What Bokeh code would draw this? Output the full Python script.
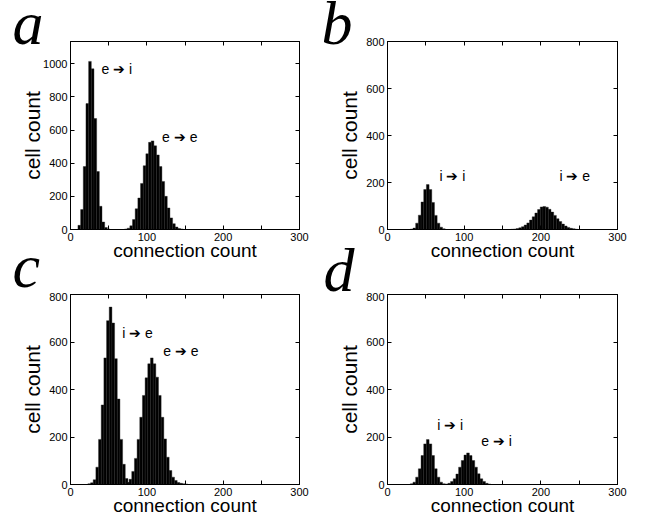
from bokeh.plotting import figure
from bokeh.layouts import column, row
from bokeh.models import FixedTicker, LinearAxis, Label, Range1d, Title, CustomJSTickFormatter
from bokeh.embed import file_html
from bokeh.resources import INLINE

# ---------------- data (bin centres, cell counts) ----------------
x_ticks = [0, 100, 200, 300]
x_minor = [50, 150, 250]
y_ticks_a = [0, 200, 400, 600, 800, 1000]
y_ticks_bcd = [0, 200, 400, 600, 800]

# panel a
a_ei_x = [11.5, 15, 18.5, 22, 25.5, 29, 32.5, 36, 39.5, 43, 46.5, 50]
a_ei_y = [25, 120, 380, 760, 1015, 970, 670, 350, 140, 45, 12, 3]
a_ee_x = [72.5, 76, 79.5, 83, 86.5, 90, 93.5, 97, 100.5, 104, 107.5, 111,
          114.5, 118, 121.5, 125, 128.5, 132, 135.5, 139, 142.5, 146]
a_ee_y = [3, 8, 22, 60, 125, 190, 278, 385, 457, 526, 535, 505,
          450, 380, 290, 200, 130, 70, 35, 15, 6, 3]

# panel b
b_ii_x = [31.5, 35, 38.5, 42, 45.5, 49, 52.5, 56, 59.5, 63, 66.5, 70, 73.5]
b_ii_y = [2, 6, 27, 61, 117, 170, 191, 170, 115, 60, 27, 10, 3]
b_ie_x = [162.5, 166, 169.5, 173, 176.5, 180, 183.5, 187, 190.5, 194, 197.5, 201,
          204.5, 208, 211.5, 215, 218.5, 222, 225.5, 229, 232.5, 236, 239.5, 243, 246.5]
b_ie_y = [1, 2, 4, 7, 12, 19, 28, 40, 54, 70, 85, 96,
          98, 95, 86, 74, 60, 46, 34, 23, 15, 9, 5, 3, 1]

# panel c
c_ie_x = [24.5, 28, 31.5, 35, 38.5, 42, 45.5, 49, 52.5, 56, 59.5, 63, 66.5, 70, 73.5, 77]
c_ie_y = [3, 7, 20, 73, 190, 335, 533, 690, 747, 680, 530, 360, 190, 85, 25, 8]
c_ee_x = [75, 78.5, 82, 85.5, 89, 92.5, 96, 99.5, 103, 106.5, 110, 113.5, 117,
          120.5, 124, 127.5, 131, 134.5, 138, 141.5, 145, 148.5, 152]
c_ee_y = [8, 22, 55, 110, 190, 283, 375, 449, 508, 533, 508, 452, 375,
          283, 192, 115, 59, 31, 17, 8, 5, 3, 2]

# panel d
d_ii_x = [31.5, 35, 38.5, 42, 45.5, 49, 52.5, 56, 59.5, 63, 66.5, 70, 73.5]
d_ii_y = [3, 10, 31, 66, 122, 171, 189, 171, 122, 66, 31, 10, 3]
d_ei_x = [77, 80.5, 84, 87.5, 91, 94.5, 98, 101.5, 105, 108.5, 112, 115.5, 119,
          122.5, 126, 129.5, 133]
d_ei_y = [2, 5, 13, 24, 44, 73, 101, 124, 133, 122, 101, 73, 45, 24, 13, 5, 2]

BIN = 3.5
FONT = "Liberation Sans"


def style_axis(ax, ticker, show_labels=True):
    ax.ticker = ticker
    ax.axis_line_color = "black"
    ax.major_tick_line_color = "black"
    ax.minor_tick_line_color = "black"
    ax.major_tick_in = 4
    ax.major_tick_out = 0
    ax.minor_tick_in = 4
    ax.minor_tick_out = 0
    ax.major_label_text_font = FONT
    ax.major_label_text_color = "black"
    if show_labels:
        ax.major_label_text_font_size = "11px"
        ax.major_label_standoff = 3
    else:
        ax.formatter = CustomJSTickFormatter(code="return ''")
        ax.major_label_text_font_size = "0px"
        ax.major_label_standoff = 0


def panel(width, height, bl, br, bt, bb, ymax, yticks, ylab_standoff, xlab_standoff):
    p = figure(width=width, height=height,
               x_range=Range1d(0, 300), y_range=Range1d(0, ymax),
               output_backend="svg", toolbar_location=None,
               min_border_left=bl, min_border_right=br,
               min_border_top=bt, min_border_bottom=bb)
    p.grid.visible = False
    p.outline_line_color = "black"
    p.background_fill_color = "white"
    p.border_fill_color = "white"
    xt = FixedTicker(ticks=x_ticks, minor_ticks=x_minor)
    yt = FixedTicker(ticks=yticks, minor_ticks=[])
    style_axis(p.xaxis[0], xt)
    style_axis(p.yaxis[0], yt)
    p.xaxis[0].axis_label = "connection count"
    p.yaxis[0].axis_label = "cell count"
    for ax, fs, so in ((p.xaxis[0], "19px", xlab_standoff), (p.yaxis[0], "21px", ylab_standoff)):
        ax.axis_label_text_font = FONT
        ax.axis_label_text_font_style = "normal"
        ax.axis_label_text_font_size = fs
        ax.axis_label_text_color = "black"
        ax.axis_label_standoff = so
    top = LinearAxis()
    style_axis(top, FixedTicker(ticks=x_ticks, minor_ticks=x_minor), show_labels=False)
    p.add_layout(top, "above")
    right = LinearAxis()
    style_axis(right, FixedTicker(ticks=yticks, minor_ticks=[]), show_labels=False)
    p.add_layout(right, "right")
    return p


def bars(p, xs, ys):
    p.vbar(x=xs, top=ys, width=BIN, bottom=0,
           fill_color="black", line_color="#222222", line_width=0.4)


def tag(p, x, y, text):
    p.add_layout(Label(x=x, y=y, text=text, text_font=FONT, text_font_size="14px",
                       text_color="black", text_baseline="alphabetic", text_align="left"))


def letter(p, text, side, offset, standoff):
    p.add_layout(Title(text=text, align="left", vertical_align="bottom",
                       offset=offset, standoff=standoff,
                       text_font="Liberation Serif", text_font_style="italic",
                       text_font_size="62px", text_color="black"), side)


# row 1: 324 x 292 each; row 2: 324 x 229 each
pa = panel(324, 292, 70, 25, 41, 63, 1135, y_ticks_a, -4, -4)
bars(pa, a_ei_x, a_ei_y)
bars(pa, a_ee_x, a_ee_y)
tag(pa, 40.6, 966, "e \u2794 i")
tag(pa, 120, 556, "e \u2794 e")
letter(pa, "a", "above", -58, -30)
letter(pa, "c", "below", -58, -67)

pb = panel(324, 292, 63, 31, 41, 63, 800, y_ticks_bcd, 2, -4)
bars(pb, b_ii_x, b_ii_y)
bars(pb, b_ie_x, b_ie_y)
tag(pb, 67.8, 226, "i \u2794 i")
tag(pb, 224.3, 226, "i \u2794 e")
letter(pb, "b", "above", -66, -30)
letter(pb, "d", "below", -64, -60)

pc = panel(324, 229, 70, 25, 2, 37, 800, y_ticks_bcd, 2, -4)
bars(pc, c_ie_x, c_ie_y)
bars(pc, c_ee_x, c_ee_y)
tag(pc, 67.7, 637, "i \u2794 e")
tag(pc, 121.4, 561, "e \u2794 e")

pd = panel(324, 229, 63, 31, 2, 37, 800, y_ticks_bcd, 2, -4)
bars(pd, d_ii_x, d_ii_y)
bars(pd, d_ei_x, d_ei_y)
tag(pd, 64.8, 252.6, "i \u2794 i")
tag(pd, 122.2, 185, "e \u2794 i")

layout = column(row(pa, pb), row(pc, pd))
open("out.html", "w").write(file_html(layout, INLINE))
